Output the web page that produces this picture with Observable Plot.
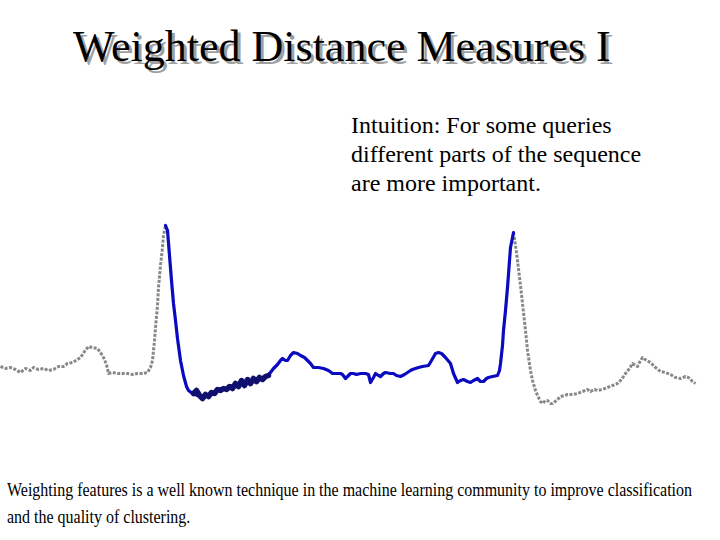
<!DOCTYPE html>
<html>
<head>
<meta charset="utf-8">
<script src="https://cdn.jsdelivr.net/npm/d3@7"></script>
<script src="https://cdn.jsdelivr.net/npm/@observablehq/plot@0.6"></script>
<style>
  html, body { margin: 0; padding: 0; background: #fff; }
  #page { position: relative; width: 720px; height: 540px; overflow: hidden; background: #fff; }
  #chart { position: absolute; left: 0; top: 0; }
  .t { position: absolute; font-family: "Liberation Serif", "Times New Roman", serif; color: #000; white-space: nowrap; }
  #title { left: 73px; top: 25px; font-size: 44px; line-height: 44px; text-shadow: 3px 3px 0 #a0a0a0; }
  #intuition { left: 351px; top: 111px; font-size: 24px; line-height: 29px; }
  #note { left: 7px; top: 477px; font-size: 18px; line-height: 27px; transform-origin: 0 0; }
</style>
</head>
<body>
<div id="page">
  <div id="chart"></div>
  <div class="t" id="title">Weighted Distance Measures I</div>
  <div class="t" id="intuition">Intuition: For some queries<br>different parts of the sequence<br>are more important.</div>
  <div class="t" id="note"><span id="l1">Weighting features is a well known technique in the machine learning community to improve classification</span><br><span id="l2">and the quality of clustering.</span></div>
</div>
<script>
// Left (unweighted) part of the sequence: sample index and amplitude
const leftT = [0,5,10,15,20,25,30,33,38,43,48,53,58,63,67,72,77,80,84,88,92,97,100,103,106,108,112,117,122,127,132,137,142,147,150,152,154,155,157,158,160,162,163,165];
const leftV = [44,42,43,41,38,42,40,43,41,42,40,41,44,44,47,48,51,53,59,64,63,62,58,53,46,37,38,37,37,37,36,37,37,38,43,50,70,83,105,123,145,163,175,185];

// Query part of the sequence (blue)
const queryT = [165,167,169,171,173,175,177,180,183,186,188,192,197,203,208,213,220,225,230,235,240,245,250,255,260,264,267,270,273,277,280,282,285,287,290,293,297,300,304,307,310,313,318,323,328,332,336,340,342,345,348,350,353,356,360,365,368,370,373,375,378,380,383,385,390,393,396,400,404,407,410,412,415,418,422,428,431,435,438,441,445,450,453,457,460,463,467,470,473,477,480,483,486,488,492,497,499,500,502,503,505,507,509,510,512,513];
const queryV = [185,180,155,130,107,90,72,50,35,24,20,17,15,13,15,18,22,22,24,26,28,29,30,31,32,33,35,38,42,46,50,52,50,50,55,58,57,55,53,50,47,43,43,42,40,37,37,37,36,32,35,37,37,36,37,37,36,28,33,37,35,34,37,38,37,37,35,34,36,38,40,41,42,43,44,45,50,57,58,57,53,47,37,28,30,31,29,28,30,32,29,29,32,33,34,35,40,47,65,80,100,123,150,163,173,178];

// Right (unweighted) part of the sequence
const rightT = [513,515,517,520,522,525,527,530,532,535,537,540,542,545,547,550,552,556,560,564,567,572,577,582,587,590,594,597,602,607,612,617,621,625,629,632,635,637,640,642,646,650,655,660,665,670,675,680,685,688,692,695];
const rightV = [178,165,150,125,107,80,60,40,30,20,15,9,7,10,10,7,7,10,14,15,16,16,17,19,21,19,21,20,21,23,25,27,31,37,42,47,45,44,50,53,50,48,43,39,38,36,33,32,34,33,29,27];

// Heavily weighted stretch (dark, thick)
const weightT = [193,196,199,202,205,208,211,214,217,220,223,226,229,232,235,238,241,244,247,250,253,256,259,262,265,268];
const weightV = [17,20,15,12,16,14,18,17,21,20,22,21,24,22,27,24,30,25,31,27,32,29,33,31,34,35];

const toRows = (T, V) => T.map((t, i) => ({t, v: V[i]}));

const chart = Plot.plot({
  width: 720,
  height: 540,
  margin: 0,
  x: {domain: [0, 695], range: [0, 695], axis: null},
  y: {domain: [0, 190], range: [410, 220], axis: null},
  marks: [
    Plot.line(toRows(leftT, leftV), {x: "t", y: "v", stroke: "#888888", strokeWidth: 3, strokeDasharray: "3,1.5", strokeLinecap: "butt"}),
    Plot.line(toRows(rightT, rightV), {x: "t", y: "v", stroke: "#888888", strokeWidth: 3, strokeDasharray: "3,1.5", strokeLinecap: "butt"}),
    Plot.line(toRows(queryT, queryV), {x: "t", y: "v", stroke: "#0a0ac0", strokeWidth: 3.2}),
    Plot.line(toRows(weightT, weightV), {x: "t", y: "v", stroke: "#10106e", strokeWidth: 5.5})
  ]
});
document.getElementById("chart").appendChild(chart);

// Fit the bottom note to the reference width
const l1 = document.getElementById("l1");
const w = l1.getBoundingClientRect().width;
const note = document.getElementById("note");
note.style.transform = `scaleX(${685 / w})`;
</script>
</body>
</html>
